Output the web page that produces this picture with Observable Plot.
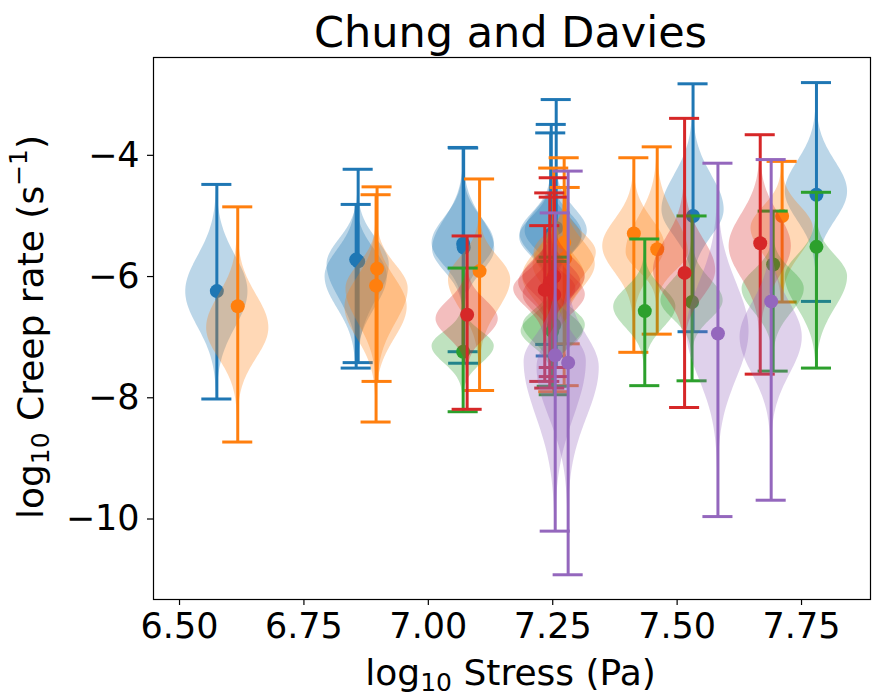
<!DOCTYPE html>
<html><head><meta charset="utf-8">
<script src="https://cdn.jsdelivr.net/npm/d3@7"></script>
<script src="https://cdn.jsdelivr.net/npm/@observablehq/plot@0.6"></script>
<style>body{margin:0;background:white;} #chart svg{font-family:"DejaVu Sans";}</style>
</head><body><div id="chart"></div>
<script>
// ---- data ----
const seriesNames = ["C0", "C1", "C2", "C3", "C4"];
const seriesColors = ["#1f77b4", "#ff7f0e", "#2ca02c", "#d62728", "#9467bd"];

// one entry per violin / error bar
const series = [
  "C0","C0","C0","C0","C0","C0","C0","C0","C0","C0",
  "C1","C1","C1","C1","C1","C1","C1","C1","C1","C1",
  "C2","C2","C2","C2","C2","C2","C2",
  "C3","C3","C3","C3","C3","C3","C3",
  "C4","C4","C4","C4"
];
const stress = [
  6.575, 6.859, 6.855, 7.070, 7.071, 7.257, 7.247, 7.246, 7.532, 7.780,
  6.617, 6.897, 6.895, 7.103, 7.273, 7.275, 7.252, 7.413, 7.460, 7.711,
  7.070, 7.253, 7.249, 7.435, 7.530, 7.693, 7.780,
  7.078, 7.253, 7.244, 7.253, 7.234, 7.515, 7.667,
  7.281, 7.255, 7.582, 7.689
];
const meanRate = [
  -6.24, -5.75, -5.72, -5.46, -5.52, -5.20, -5.30, -5.35, -5.00, -4.65,
  -6.49, -5.87, -6.15, -5.91, -5.44, -5.70, -6.00, -5.29, -5.55, -5.00,
  -7.24, -6.80, -6.90, -6.57, -6.42, -5.80, -5.51,
  -6.63, -6.00, -6.10, -6.30, -6.22, -5.94, -5.45,
  -7.42, -7.30, -6.94, -6.41
];
const minRate = [
  -8.02, -7.42, -7.51, -7.24, -7.43, -7.50, -7.31, -7.12, -6.91, -6.41,
  -8.73, -7.73, -8.40, -7.88, -7.80, -7.11, -7.90, -7.25, -6.95, -6.42,
  -8.23, -7.95, -7.81, -7.80, -7.72, -7.56, -7.51,
  -8.19, -7.50, -7.84, -7.65, -7.73, -8.16, -7.61,
  -10.92, -10.20, -9.96, -9.69
];
const maxRate = [
  -4.48, -4.23, -4.81, -3.87, -3.88, -3.08, -3.49, -3.63, -2.82, -2.80,
  -4.85, -4.52, -4.65, -4.39, -4.04, -4.53, -4.21, -4.04, -3.86, -4.10,
  -5.86, -5.68, -5.75, -5.38, -5.00, -4.92, -4.61,
  -5.33, -4.37, -4.62, -4.69, -5.16, -3.39, -3.66,
  -4.26, -4.95, -4.13, -4.07
];
// violin body: widest level and visible upper / lower ends
const modeRate = [
  -6.25, -5.80, -6.00, -5.45, -5.55, -5.25, -5.30, -5.35, -4.90, -4.60,
  -6.85, -6.20, -6.50, -6.05, -5.80, -5.60, -6.00, -5.50, -5.60, -5.20,
  -7.15, -6.80, -6.90, -6.50, -6.40, -6.20, -6.00,
  -6.70, -6.00, -6.10, -6.30, -6.20, -5.90, -5.50,
  -7.50, -7.40, -6.90, -7.00
];
const visTop = [
  -4.90, -4.85, -5.00, -4.50, -4.40, -4.40, -4.50, -4.60, -3.60, -3.45,
  -5.60, -5.30, -5.40, -5.20, -4.90, -4.90, -5.10, -4.50, -4.30, -4.40,
  -6.60, -6.20, -6.30, -5.80, -5.60, -5.50, -5.20,
  -6.00, -5.30, -5.40, -5.60, -5.60, -4.70, -4.30,
  -6.30, -6.40, -5.10, -5.70
];
const visBottom = [
  -7.60, -7.10, -7.20, -6.30, -6.40, -6.00, -6.10, -6.10, -5.90, -5.70,
  -8.00, -7.50, -7.70, -7.20, -6.70, -6.50, -6.90, -6.50, -6.30, -6.20,
  -7.80, -7.50, -7.50, -7.30, -7.10, -7.10, -7.20,
  -7.40, -6.70, -6.80, -7.00, -6.90, -6.90, -6.70,
  -9.40, -9.50, -8.70, -8.40
];
const xTicks = [6.5, 6.75, 7.0, 7.25, 7.5, 7.75];
const yTicks = [-4, -6, -8, -10];
const titleText = "Chung and Davies";

// ---- build tables ----
const halfWidth = 0.0625;  // violin half width (x units)
const capHalf = 0.0302;    // error-bar cap half width (x units)
const recs = stress.map((x, i) => ({
  id: i, series: series[i], x, mean: meanRate[i], lo: minRate[i], hi: maxRate[i],
  mode: modeRate[i], top: visTop[i], bot: visBottom[i]
}));
const violinPts = [];
for (const r of recs) {
  const sUp = (r.top - r.mode) / 2.3, sDn = (r.mode - r.bot) / 2.3;
  const n = 140;
  for (let k = 0; k <= n; k++) {
    const y = r.lo + (r.hi - r.lo) * k / n;
    const s = y > r.mode ? sUp : sDn;
    const w = halfWidth * Math.exp(-0.5 * ((y - r.mode) / s) ** 2);
    violinPts.push({id: r.id, series: r.series, y, x1: r.x - w, x2: r.x + w});
  }
}

const marks = [];
for (const s of seriesNames) {
  const R = recs.filter(d => d.series === s);
  const V = violinPts.filter(d => d.series === s);
  marks.push(
    Plot.areaX(V, {y: "y", x1: "x1", x2: "x2", z: "id", fill: "series", fillOpacity: 0.3, curve: "linear"}),
    Plot.ruleX(R, {x: "x", y1: "lo", y2: "hi", stroke: "series", strokeWidth: 3}),
    Plot.ruleY(R, {y: "lo", x1: d => d.x - capHalf, x2: d => d.x + capHalf, stroke: "series", strokeWidth: 3}),
    Plot.ruleY(R, {y: "hi", x1: d => d.x - capHalf, x2: d => d.x + capHalf, stroke: "series", strokeWidth: 3}),
    Plot.dot(R, {x: "x", y: "mean", fill: "series", r: 7})
  );
}

const fmtY = d => (d < 0 ? "\u2212" + Math.abs(d) : String(d));
const chart = Plot.plot({
  width: 872, height: 697,
  marginLeft: 153, marginRight: 2, marginTop: 57, marginBottom: 98,
  style: {fontFamily: "DejaVu Sans", fontSize: "35px", color: "black", background: "white", overflow: "visible"},
  x: {domain: [6.4477, 7.8886]},
  y: {domain: [-11.328, -2.386]},
  color: {domain: seriesNames, range: seriesColors},
  marks: [
    ...marks,
    Plot.axisX({ticks: xTicks, tickFormat: d => d.toFixed(2), tickSize: 6, tickPadding: 8, fontSize: 35, strokeWidth: 1.2, label: null}),
    Plot.axisY({ticks: yTicks, tickFormat: fmtY, tickSize: 6, tickPadding: 8, fontSize: 35, strokeWidth: 1.2, label: null}),
    Plot.frame({stroke: "black", strokeWidth: 1.2})
  ]
});
document.getElementById("chart").appendChild(chart);

// ---- title and axis labels with sub/superscripts ----
const svg = d3.select(chart);
svg.append("text").attr("x", 510.5).attr("y", 47).attr("text-anchor", "middle")
  .attr("font-size", 43).attr("fill", "black").text(titleText);

const xl = svg.append("text").attr("x", 510.5).attr("y", 685).attr("text-anchor", "middle")
  .attr("font-size", 36).attr("fill", "black");
xl.append("tspan").text("log");
xl.append("tspan").attr("font-size", 25).attr("dy", 6).text("10");
xl.append("tspan").attr("dy", -6).text(" Stress (Pa)");

const yl = svg.append("text").attr("transform", "translate(43,327) rotate(-90)").attr("text-anchor", "middle")
  .attr("font-size", 36).attr("fill", "black");
yl.append("tspan").text("log");
yl.append("tspan").attr("font-size", 25).attr("dy", 6).text("10");
yl.append("tspan").attr("dy", -6).text(" Creep rate (s");
yl.append("tspan").attr("font-size", 25).attr("dy", -16).text("\u22121");
yl.append("tspan").attr("dy", 16).text(")");
</script>
</body></html>
